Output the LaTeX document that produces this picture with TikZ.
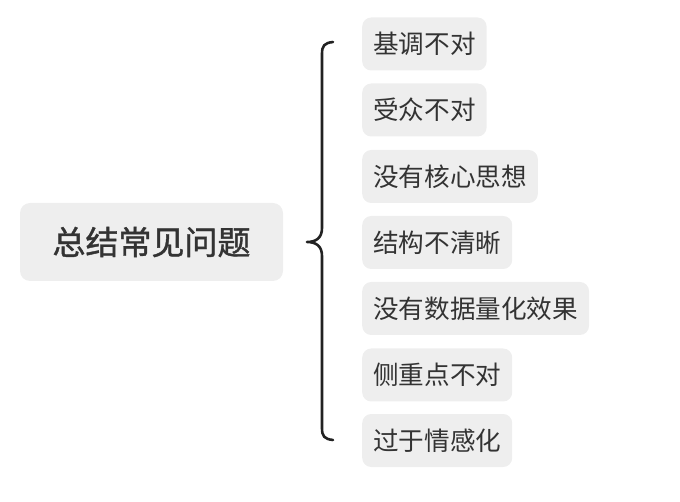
\documentclass[tikz,border=0pt]{standalone}
\usepackage{fontspec}
\setmainfont{Noto Sans CJK SC}
\newfontfamily\rootfont[FakeBold=1.2]{Noto Sans CJK SC}
\definecolor{boxfill}{HTML}{EEEEEE}
\definecolor{txt}{HTML}{333333}
\definecolor{bracec}{HTML}{222222}
\begin{document}
\begin{tikzpicture}[x=1pt,y=-1pt,
  rootbox/.style={fill=boxfill,rounded corners=10pt,minimum width=263pt,minimum height=78pt,
    text=txt,font=\rootfont\fontsize{33}{38}\selectfont,inner sep=0pt},
  leafbox/.style={fill=boxfill,rounded corners=9pt,minimum height=53pt,inner xsep=11pt,
    inner ysep=0pt,anchor=west,text=txt,font=\fontsize{25.6}{29}\selectfont},
  bracepath/.style={draw=bracec,line width=2.6pt,line cap=round,line join=round}]
\useasboundingbox (0,0) rectangle (680,502);
\node[rootbox] (root) at (151.5,242) {总结常见问题};
\node[leafbox] (c1) at (362,44) {基调不对};
\node[leafbox] (c2) at (362,110) {受众不对};
\node[leafbox] (c3) at (362,176.5) {没有核心思想};
\node[leafbox] (c4) at (362,242.5) {结构不清晰};
\node[leafbox] (c5) at (362,308.5) {没有数据量化效果};
\node[leafbox] (c6) at (362,375) {侧重点不对};
\node[leafbox] (c7) at (362,440.5) {过于情感化};
\coordinate (btop) at (333,42);
\coordinate (bmid) at (307,242);
\coordinate (bbot) at (333,440);
\draw[bracepath] (btop) .. controls (324,43) and (322,46) .. (322,54)
  -- (322,228) .. controls (322,238) and (316,242) .. (bmid)
  .. controls (316,242) and (322,246) .. (322,256)
  -- (322,428) .. controls (322,436) and (324,439) .. (bbot);
\end{tikzpicture}
\end{document}
